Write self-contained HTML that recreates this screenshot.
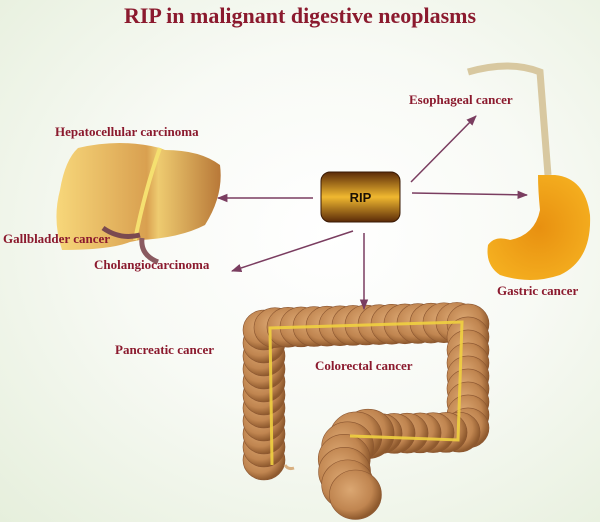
<!DOCTYPE html>
<html><head><meta charset="utf-8"><style>
html,body{margin:0;padding:0}
body{width:600px;height:522px;overflow:hidden;background:radial-gradient(ellipse at 55% 45%,#ffffff 0%,#f8faf5 45%,#e6efdc 100%);position:relative;font-family:"Liberation Serif",serif}
.t{position:absolute;color:#8b1a2e;font-weight:bold;font-size:13px;white-space:nowrap}
</style></head><body>
<svg id="s" width="600" height="522" style="position:absolute;left:0;top:0">
<defs>
<linearGradient id="rip" x1="0" y1="0" x2="0" y2="1"><stop offset="0" stop-color="#5a2a08"/><stop offset=".5" stop-color="#f0b830"/><stop offset="1" stop-color="#5a2a08"/></linearGradient>
<linearGradient id="liv" x1="0" y1="0" x2="1" y2="0"><stop offset="0" stop-color="#f7d77a"/><stop offset=".55" stop-color="#d9a050"/><stop offset=".62" stop-color="#eecb70"/><stop offset="1" stop-color="#b87838"/></linearGradient>
<radialGradient id="sto" cx=".5" cy=".5" r=".6"><stop offset="0" stop-color="#e89010"/><stop offset="1" stop-color="#f5b020"/></radialGradient>
<radialGradient id="lump" cx=".4" cy=".4" r=".6"><stop offset="0" stop-color="#dba772"/><stop offset=".7" stop-color="#c08550"/><stop offset="1" stop-color="#8f5a2e"/></radialGradient>
<marker id="a" viewBox="0 0 10 10" refX="9" refY="5" markerWidth="7" markerHeight="7" orient="auto"><path d="M0,1 L10,5 L0,9 z" fill="#7a3d60"/></marker>
</defs>
<path d="M78,148 Q120,138 160,148 L165,150 Q200,150 220,165 Q224,195 205,225 Q180,238 140,240 L130,242 Q110,250 62,250 Q52,220 60,190 Q65,160 78,148z" fill="url(#liv)"/>
<path d="M160,148 Q145,190 135,240" stroke="#f5e070" stroke-width="4" fill="none"/>
<path d="M103,228 Q120,240 140,235" stroke="#7a4a50" stroke-width="5" fill="none"/>
<path d="M142,238 Q140,255 158,262" stroke="#8a5a60" stroke-width="5" fill="none"/>
<path d="M468,72 Q510,60 540,72 L548,175" stroke="#d8c8a0" stroke-width="7" fill="none"/>
<path d="M538,175 L555,175 Q585,178 590,215 Q592,260 560,275 Q530,285 500,275 Q485,265 488,245 Q495,235 510,240 Q535,235 540,210 Q538,190 538,175z" fill="url(#sto)"/>
<g id="colon"></g>
<path d="M272,465 L270,328 L462,322 L458,440 L350,436" stroke="#f0d040" stroke-width="3" fill="none" opacity=".9"/>
<path d="M285,465 Q288,470 294,468" stroke="#d8b080" stroke-width="3" fill="none"/>
<rect x="321" y="172" width="79" height="50" rx="9" fill="url(#rip)" stroke="#3a1a05" stroke-width="1"/>
<text x="360.5" y="202" text-anchor="middle" font-family="Liberation Sans, sans-serif" font-weight="bold" font-size="13" fill="#1a1005">RIP</text>
<g stroke="#7a3d60" stroke-width="1.5" fill="none" marker-end="url(#a)">
<line x1="313" y1="198" x2="218" y2="198"/>
<line x1="412" y1="193" x2="527" y2="195"/>
<line x1="411" y1="182" x2="476" y2="116"/>
<line x1="353" y1="231" x2="232" y2="271"/>
<line x1="364" y1="233" x2="364" y2="309"/>
</g>
</svg>
<script>
(function(){
var ns="http://www.w3.org/2000/svg",g=document.getElementById("colon");
var p=document.createElementNS(ns,"path");
p.setAttribute("d","M264,460 L264,328 L468,322 L468,432 L360,434 Q340,445 345,475 Q348,492 358,496");
p.setAttribute("fill","none");
document.getElementById("s").appendChild(p);
var L=p.getTotalLength();
for(var d=0;d<=L;d+=13){
 var pt=p.getPointAtLength(d);
 var r=(d>L-90)?26:21;
 var e=document.createElementNS(ns,"ellipse");
 e.setAttribute("cx",pt.x);e.setAttribute("cy",pt.y);
 e.setAttribute("rx",r);e.setAttribute("ry",r*0.95);
 e.setAttribute("fill","url(#lump)");e.setAttribute("stroke","#8a5530");e.setAttribute("stroke-width","0.6");
 g.appendChild(e);
}
})();
</script>
<div class="t" style="left:0;width:600px;text-align:center;top:3px;font-size:22px">RIP in malignant digestive neoplasms</div>
<div class="t" style="left:409px;top:92px">Esophageal cancer</div>
<div class="t" style="left:55px;top:124px">Hepatocellular carcinoma</div>
<div class="t" style="left:3px;top:231px">Gallbladder cancer</div>
<div class="t" style="left:94px;top:257px">Cholangiocarcinoma</div>
<div class="t" style="left:497px;top:283px">Gastric cancer</div>
<div class="t" style="left:115px;top:342px">Pancreatic cancer</div>
<div class="t" style="left:315px;top:358px">Colorectal cancer</div>
</body></html>
